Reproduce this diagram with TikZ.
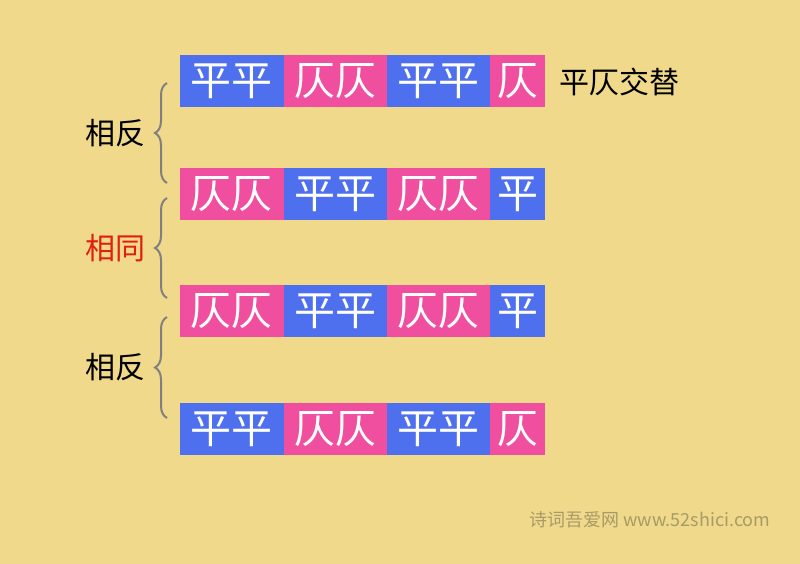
\documentclass[tikz,border=0pt]{standalone}
\usepackage{fontspec}
\setmainfont{Noto Sans CJK SC}
\usetikzlibrary{positioning,decorations.pathreplacing}
\definecolor{bg}{RGB}{240,217,138}
\definecolor{pblue}{RGB}{79,112,238}
\definecolor{zpink}{RGB}{240,78,158}
\definecolor{mark}{RGB}{168,155,104}
\tikzset{
  cell/.style={inner sep=0pt, minimum height=52pt, text=white, font=\fontsize{41}{41}\selectfont},
  wide/.style={cell, minimum width=103.5pt},
  narrow/.style={cell, minimum width=55pt},
  ping/.style={fill=pblue},
  ze/.style={fill=zpink},
  label/.style={font=\fontsize{30}{30}\selectfont},
  brace/.style={decorate, decoration={brace, amplitude=12pt}, draw=gray, line width=2pt}
}
\begin{document}
\begin{tikzpicture}[x=1pt, y=-1pt, node distance=-0.5pt]
  \fill[bg] (0,0) rectangle (800,564);
  \useasboundingbox (0,0) rectangle (800,564);
  \foreach \r/\y/\a/\b/\ta/\tb in {1/81/ping/ze/平/仄, 2/194/ze/ping/仄/平, 3/311/ze/ping/仄/平, 4/429/ping/ze/平/仄} {
    \node[\a, wide, anchor=west] (r\r-1) at (180,\y) {\ta\ta};
    \node[\b, wide, right=of r\r-1] (r\r-2) {\tb\tb};
    \node[\a, wide, right=of r\r-2] (r\r-3) {\ta\ta};
    \node[\b, narrow, right=of r\r-3] (r\r-4) {\tb};
  }
  \node[label, anchor=west] (alt) at (556,82) {平仄交替};
  % braces
  \foreach \i/\s/\e in {1/183/83, 2/298/198, 3/418/317} {
    \coordinate (b\i-s) at (167,\s);
    \coordinate (b\i-e) at (167,\e);
    \draw[brace] (b\i-s) -- (b\i-e);
  }
  \node[label] (l1) at (115,133) {相反};
  \node[label, text={rgb,255:red,226;green,30;blue,16}] (l2) at (115,248) {相同};
  \node[label] (l3) at (115,367) {相反};
  \node[font=\fontsize{18}{18}\selectfont, text=mark, anchor=east] (site) at (774,520) {诗词吾爱网 www.52shici.com};
\end{tikzpicture}
\end{document}
